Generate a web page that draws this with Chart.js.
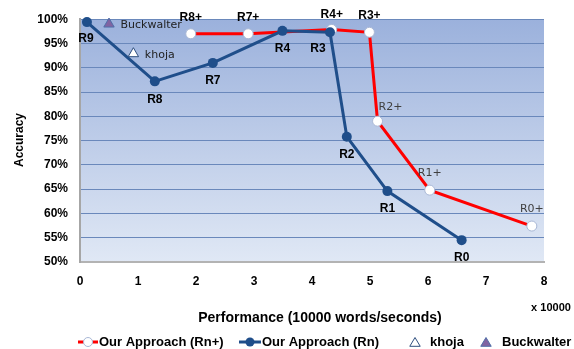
<!DOCTYPE html>
<html>
<head>
<meta charset="utf-8">
<script src="https://cdn.jsdelivr.net/npm/chart.js@4.4.1/dist/chart.umd.min.js"></script>
<style>
  html, body { margin: 0; padding: 0; background: #fff; }
</style>
</head>
<body>
<canvas id="chart" width="574" height="349"></canvas>
<script>
// Our Approach (Rn): performance (x10000 words/s) vs accuracy (%)
const rnLabels = ['R9', 'R8', 'R7', 'R4', 'R3', 'R2', 'R1', 'R0'];
const rnPerf = [0.12, 1.29, 2.29, 3.49, 4.31, 4.60, 5.30, 6.58];
const rnAcc = [99.4, 87.2, 91.0, 97.6, 97.3, 75.8, 64.6, 54.5];

// Our Approach (Rn+)
const rnPlusLabels = ['R8+', 'R7+', 'R4+', 'R3+', 'R2+', 'R1+', 'R0+'];
const rnPlusPerf = [1.91, 2.90, 4.34, 4.99, 5.13, 6.03, 7.79];
const rnPlusAcc = [97.0, 97.0, 97.9, 97.3, 79.0, 64.8, 57.4];

// other stemmers
const khojaPoint = [0.92, 92.9];
const buckwalterPoint = [0.50, 99.0];

const xTicks = [0, 1, 2, 3, 4, 5, 6, 7, 8];
const yTicks = [50, 55, 60, 65, 70, 75, 80, 85, 90, 95, 100];

const FONT = "'Liberation Sans', Arial, sans-serif";
const THIN = "'DejaVu Sans', sans-serif";
const RED = '#ff0000';
const BLUE = '#1f4e8a';
const PURPLE = '#8064a2';

// label placement around the markers (px)
const labelOffsets = {
    'R9': [-1, 17], 'R3': [-12, 16],
    'R8+': [0, -16.5], 'R7+': [0, -16.5], 'R4+': [0, -14.5], 'R3+': [0, -17],
    'R2+': [13, -14], 'R1+': [0, -17], 'R0+': [0, -17]
};
const thinLabels = ['R2+', 'R1+', 'R0+', 'khoja', 'Buckwalter'];

const toPoints = (xs, ys) => xs.map((x, i) => ({ x: x, y: ys[i] }));

const plotBackground = {
    id: 'plotBackground',
    beforeDraw(chart) {
        const { ctx, chartArea: a } = chart;
        ctx.save();
        ctx.fillStyle = '#fff';
        ctx.fillRect(0, 0, chart.width, chart.height);
        const g = ctx.createLinearGradient(0, a.top, 0, a.bottom);
        g.addColorStop(0, '#9bb1dc');
        g.addColorStop(1, '#e0e8f5');
        ctx.fillStyle = g;
        ctx.fillRect(a.left, a.top, a.right - a.left, a.bottom - a.top);
        ctx.restore();
    }
};

const pointLabels = {
    id: 'pointLabels',
    afterDatasetsDraw(chart) {
        const ctx = chart.ctx;
        ctx.save();
        chart.data.datasets.forEach((ds, di) => {
            const meta = chart.getDatasetMeta(di);
            meta.data.forEach((pt, i) => {
                const text = ds.pointLabels[i];
                const side = ds.labelSide;
                const thin = thinLabels.includes(text);
                ctx.font = thin ? '11px ' + THIN : 'bold 12px ' + FONT;
                ctx.fillStyle = thin ? '#404040' : '#000';
                ctx.textBaseline = 'middle';
                if (side === 'right') {
                    ctx.fillStyle = '#222';
                    ctx.textAlign = 'left';
                    ctx.fillText(text, pt.x + 11.5, pt.y + 1);
                    return;
                }
                const off = labelOffsets[text] || [0, side === 'above' ? -17 : 18];
                ctx.textAlign = 'center';
                ctx.fillText(text, pt.x + off[0], pt.y + off[1]);
            });
        });
        ctx.restore();
    }
};

function triangle(ctx, cx, cy, r, fill, stroke) {
    ctx.beginPath();
    ctx.moveTo(cx, cy - r);
    ctx.lineTo(cx + r * 0.95, cy + r * 0.6);
    ctx.lineTo(cx - r * 0.95, cy + r * 0.6);
    ctx.closePath();
    ctx.fillStyle = fill;
    ctx.fill();
    ctx.lineWidth = 1;
    ctx.strokeStyle = stroke;
    ctx.stroke();
}

const extraText = {
    id: 'extraText',
    afterDraw(chart) {
        const ctx = chart.ctx;
        ctx.save();
        ctx.fillStyle = '#000';
        ctx.textBaseline = 'middle';
        ctx.textAlign = 'center';

        // axis titles
        ctx.font = 'bold 12px ' + FONT;
        ctx.save();
        ctx.translate(20, 140);
        ctx.rotate(-Math.PI / 2);
        ctx.fillText('Accuracy', 0, 0);
        ctx.restore();
        ctx.font = 'bold 14px ' + FONT;
        ctx.fillText('Performance (10000 words/seconds)', 320, 318);
        ctx.font = 'bold 11px ' + FONT;
        ctx.fillText('x 10000', 551, 308);

        // legend
        const ly = 342;
        ctx.font = 'bold 13px ' + FONT;
        ctx.textAlign = 'left';
        ctx.lineWidth = 3;
        ctx.strokeStyle = RED;
        ctx.beginPath(); ctx.moveTo(78, ly); ctx.lineTo(98, ly); ctx.stroke();
        ctx.beginPath(); ctx.arc(88, ly, 4.5, 0, Math.PI * 2);
        ctx.fillStyle = '#fff'; ctx.fill();
        ctx.lineWidth = 1; ctx.strokeStyle = '#a9b8d6'; ctx.stroke();
        ctx.fillStyle = '#000';
        ctx.fillText('Our Approach (Rn+)', 99, ly);

        ctx.lineWidth = 3;
        ctx.strokeStyle = BLUE;
        ctx.beginPath(); ctx.moveTo(239, ly); ctx.lineTo(261, ly); ctx.stroke();
        ctx.beginPath(); ctx.arc(250, ly, 4.5, 0, Math.PI * 2);
        ctx.fillStyle = BLUE; ctx.fill();
        ctx.fillStyle = '#000';
        ctx.fillText('Our Approach (Rn)', 262, ly);

        triangle(ctx, 415, ly + 1, 5.5, '#fff', '#2f4f7f');
        ctx.fillStyle = '#000';
        ctx.fillText('khoja', 430, ly);
        triangle(ctx, 486, ly + 1, 5.5, PURPLE, '#4f6fa8');
        ctx.fillStyle = '#000';
        ctx.fillText('Buckwalter', 502, ly);
        ctx.restore();
    }
};

const tickFont = { family: FONT, size: 12, weight: 'bold' };

new Chart(document.getElementById('chart').getContext('2d'), {
    type: 'scatter',
    data: {
        datasets: [
            {
                label: 'khoja',
                data: [{ x: khojaPoint[0], y: khojaPoint[1] }],
                pointLabels: ['khoja'], labelSide: 'right',
                pointStyle: 'triangle', pointRadius: 6,
                backgroundColor: '#fff', borderColor: '#2f4f7f', borderWidth: 1,
                order: 0, clip: false
            },
            {
                label: 'Buckwalter',
                data: [{ x: buckwalterPoint[0], y: buckwalterPoint[1] }],
                pointLabels: ['Buckwalter'], labelSide: 'right',
                pointStyle: 'triangle', pointRadius: 6,
                backgroundColor: PURPLE, borderColor: '#4f6fa8', borderWidth: 1,
                order: 0, clip: false
            },
            {
                label: 'Our Approach (Rn)',
                data: toPoints(rnPerf, rnAcc),
                pointLabels: rnLabels, labelSide: 'below',
                showLine: true, borderColor: BLUE, borderWidth: 3,
                pointRadius: 5, pointBorderWidth: 0,
                pointBackgroundColor: BLUE, pointBorderColor: BLUE,
                order: 1, clip: false
            },
            {
                label: 'Our Approach (Rn+)',
                data: toPoints(rnPlusPerf, rnPlusAcc),
                pointLabels: rnPlusLabels, labelSide: 'above',
                showLine: true, borderColor: RED, borderWidth: 3,
                pointRadius: 5, pointBackgroundColor: '#fff', pointBorderColor: '#a9b8d6',
                pointBorderWidth: 1,
                order: 2, clip: false
            }
        ]
    },
    options: {
        responsive: false,
        animation: false,
        layout: { padding: { left: 0, right: 30, top: 19, bottom: 0 } },
        plugins: {
            legend: { display: false },
            tooltip: { enabled: false }
        },
        scales: {
            x: {
                type: 'linear', min: 0, max: 8,
                afterFit: s => { s.height = 87; },
                afterBuildTicks: s => { s.ticks = xTicks.map(v => ({ value: v })); },
                ticks: { color: '#000', font: tickFont, padding: 12, maxRotation: 0 },
                grid: { display: false, drawTicks: false },
                border: { display: true, color: '#b3b3b3', width: 2 }
            },
            y: {
                min: 50, max: 100,
                afterFit: s => { s.width = 80; },
                afterBuildTicks: s => { s.ticks = yTicks.map(v => ({ value: v })); },
                ticks: { color: '#000', font: tickFont, padding: 12, callback: v => v + '%' },
                grid: {
                    drawTicks: false, lineWidth: 1,
                    color: c => (c.tick && c.tick.value === 50) ? 'rgba(0,0,0,0)' : '#6a88bb'
                },
                border: { display: true, color: '#a6a6a6', width: 2 }
            }
        }
    },
    plugins: [plotBackground, pointLabels, extraText]
});
</script>
</body>
</html>
